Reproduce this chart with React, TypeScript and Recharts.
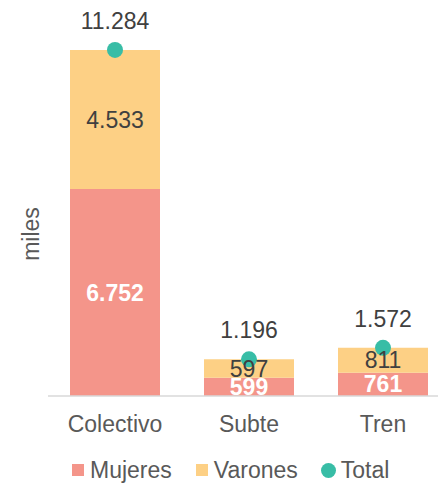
import { ComposedChart, Bar, Line, XAxis, YAxis, LabelList } from 'recharts'

const categories = ['Colectivo', 'Subte', 'Tren']
const mujeres = [6752, 599, 761]
const varones = [4533, 597, 811]
const totals = [11284, 1196, 1572]

const COLORS = { mujeres: '#F4958A', varones: '#FDD085', total: '#38BDA6' }
const FONT = 'Liberation Sans, Arial, sans-serif'

const fmt = (v: any) => String(v).replace(/\B(?=(\d{3})+(?!\d))/g, '.')

const data = categories.map((name, i) => ({
  name,
  mujeres: mujeres[i],
  varones: varones[i],
  total: totals[i],
}))

const legendItems = [
  { label: 'Mujeres', color: COLORS.mujeres, shape: 'square', gap: 24 },
  { label: 'Varones', color: COLORS.varones, shape: 'square', gap: 23 },
  { label: 'Total', color: COLORS.total, shape: 'circle', gap: 0 },
]

export default function App() {
  return (
    <div style={{ position: 'absolute', left: 0, top: 0, width: 438, height: 487, overflow: 'hidden', background: '#fff', fontFamily: FONT }}>
      <ComposedChart
        width={450}
        height={487}
        data={data}
        margin={{ top: 28, right: 0, left: 48, bottom: 61 }}
        barCategoryGap={22}
      >
        <YAxis hide domain={[0, 12000]} />
        <XAxis
          dataKey="name"
          height={30}
          tickLine={false}
          tickMargin={14}
          axisLine={{ stroke: '#d9d9d9', strokeWidth: 1.5 }}
          tick={{ fill: '#595959', fontSize: 23, fontFamily: FONT }}
        />
        <Bar dataKey="mujeres" stackId="a" fill={COLORS.mujeres} isAnimationActive={false}>
          <LabelList
            dataKey="mujeres"
            position="center"
            formatter={fmt}
            fill="#fff"
            style={{ fontWeight: 'bold', fontSize: 23, fontFamily: FONT }}
          />
        </Bar>
        <Bar dataKey="varones" stackId="a" fill={COLORS.varones} isAnimationActive={false}>
          <LabelList
            dataKey="varones"
            position="center"
            formatter={fmt}
            fill="#404040"
            style={{ fontSize: 23, fontFamily: FONT }}
          />
        </Bar>
        <Line
          dataKey="total"
          stroke="none"
          dot={{ r: 8, fill: COLORS.total, stroke: 'none' }}
          activeDot={false}
          isAnimationActive={false}
        >
          <LabelList
            dataKey="total"
            position="top"
            offset={21}
            formatter={fmt}
            fill="#404040"
            style={{ fontSize: 23, fontFamily: FONT }}
          />
        </Line>
      </ComposedChart>

      <div
        style={{
          position: 'absolute',
          left: 31,
          top: 234,
          transform: 'translate(-50%, -50%) rotate(-90deg)',
          fontSize: 23,
          color: '#595959',
          whiteSpace: 'nowrap',
        }}
      >
        miles
      </div>

      <div style={{ position: 'absolute', left: 72, top: 456, display: 'flex', alignItems: 'center', fontSize: 23, color: '#595959', lineHeight: '28px' }}>
        {legendItems.map((it) => (
          <div key={it.label} style={{ display: 'flex', alignItems: 'center', marginRight: it.gap }}>
            <span
              style={{
                display: 'inline-block',
                width: it.shape === 'circle' ? 15 : 12,
                height: it.shape === 'circle' ? 15 : 12,
                borderRadius: it.shape === 'circle' ? '50%' : 0,
                background: it.color,
                marginRight: it.shape === 'circle' ? 5 : 6,
              }}
            />
            <span>{it.label}</span>
          </div>
        ))}
      </div>
    </div>
  )
}
